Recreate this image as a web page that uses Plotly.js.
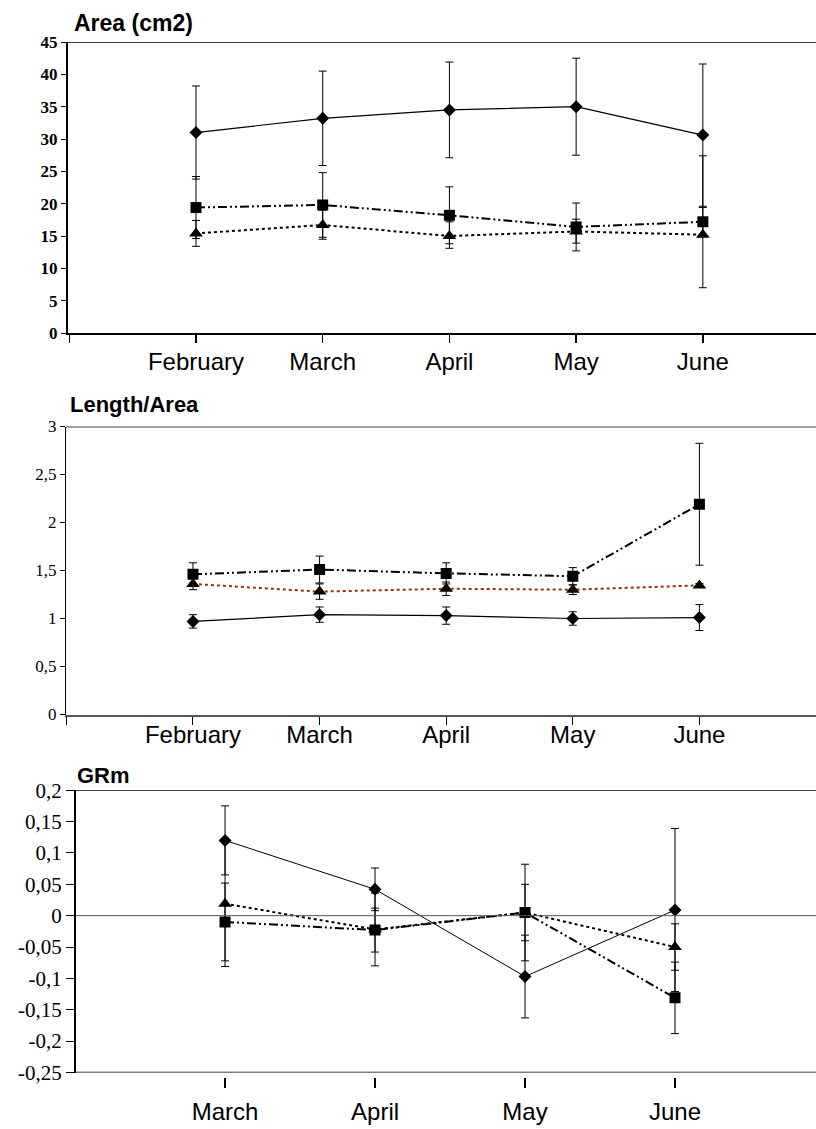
<!DOCTYPE html>
<html>
<head>
<meta charset="utf-8">
<script src="https://cdn.plot.ly/plotly-3.0.1.min.js"></script>
<style>
  html, body { margin: 0; padding: 0; background: #fff; }
  #chart { width: 816px; height: 1129px; }
</style>
</head>
<body>
<div id="chart"></div>
<script>
// ---------- data ----------
const monthsA = ['February', 'March', 'April', 'May', 'June'];
const monthsG = ['March', 'April', 'May', 'June'];

// Area (cm2)
const areaDiamond = [31.0, 33.2, 34.5, 35.0, 30.6];
const areaDiamondErr = [7.2, 7.3, 7.4, 7.5, 11.0];
const areaSquare = [19.4, 19.8, 18.2, 16.4, 17.2];
const areaSquareErr = [4.8, 5.0, 4.4, 3.7, 2.2];
const areaTriangle = [15.4, 16.7, 15.0, 15.7, 15.2];
const areaTriangleErrPlus = [2.0, 2.3, 2.2, 1.9, 12.2];
const areaTriangleErrMinus = [2.0, 2.2, 1.9, 1.8, 8.2];

// Length/Area
const laDiamond = [0.97, 1.04, 1.03, 1.00, 1.01];
const laDiamondErr = [0.07, 0.08, 0.09, 0.07, 0.135];
const laSquare = [1.46, 1.51, 1.47, 1.44, 2.19];
const laSquareErr = [0.12, 0.14, 0.11, 0.09, 0.635];
const laTriangle = [1.36, 1.28, 1.31, 1.30, 1.345];
const laTriangleErr = [0.06, 0.08, 0.07, 0.05, 0.02];

// GRm
const grDiamond = [0.120, 0.042, -0.097, 0.009];
const grDiamondErr = [0.055, 0.034, 0.066, 0.130];
const grSquare = [-0.010, -0.023, 0.005, -0.131];
const grSquareErr = [0.062, 0.035, 0.077, 0.057];
const grTriangle = [0.019, -0.022, 0.005, -0.050];
const grTriangleErr = [0.100, 0.058, 0.045, 0.037];

// tick labels
const areaTicks = [0, 5, 10, 15, 20, 25, 30, 35, 40, 45];
const laTicks = [0, 0.5, 1, 1.5, 2, 2.5, 3];
const laTickText = ['0', '0,5', '1', '1,5', '2', '2,5', '3'];
const grTicks = [0.2, 0.15, 0.1, 0.05, 0, -0.05, -0.1, -0.15, -0.2, -0.25];
const grTickText = ['0,2', '0,15', '0,1', '0,05', '0', '-0,05', '-0,1', '-0,15', '-0,2', '-0,25'];

// ---------- helpers ----------
const H = 1129, W = 816;
const py = p => 1 - p / H;
const px = p => p / W;
const idx = arr => arr.map((_, i) => i);

const DOTDASH = '9px,3px,2px,3px,2px,3px';
const DOT = '3px,3px';

function series(x, y, plus, minus, symbol, size, line, xa, ya) {
  return {
    type: 'scatter', mode: 'lines+markers', x: x, y: y,
    xaxis: xa, yaxis: ya,
    line: line,
    marker: { symbol: symbol, size: size, color: '#000' },
    error_y: { type: 'data', symmetric: false, array: plus, arrayminus: minus,
               color: '#000', thickness: 1, width: 4 },
    showlegend: false, hoverinfo: 'skip'
  };
}

const xA = idx(monthsA), xG = idx(monthsG);

const traces = [
  // Area
  series(xA, areaTriangle, areaTriangleErrPlus, areaTriangleErrMinus, 'triangle-up', 12, {color: '#000', width: 2, dash: DOT}, 'x', 'y'),
  series(xA, areaSquare, areaSquareErr, areaSquareErr, 'square', 11, {color: '#000', width: 2, dash: DOTDASH}, 'x', 'y'),
  series(xA, areaDiamond, areaDiamondErr, areaDiamondErr, 'diamond', 10, {color: '#000', width: 1.2}, 'x', 'y'),
  // Length/Area
  series(xA, laTriangle, laTriangleErr, laTriangleErr, 'triangle-up', 12, {color: '#993300', width: 2, dash: DOT}, 'x2', 'y2'),
  series(xA, laSquare, laSquareErr, laSquareErr, 'square', 11, {color: '#000', width: 2, dash: DOTDASH}, 'x2', 'y2'),
  series(xA, laDiamond, laDiamondErr, laDiamondErr, 'diamond', 10, {color: '#000', width: 1.2}, 'x2', 'y2'),
  // GRm
  series(xG, grTriangle, grTriangleErr, grTriangleErr, 'triangle-up', 12, {color: '#000', width: 2, dash: DOT}, 'x3', 'y3'),
  series(xG, grSquare, grSquareErr, grSquareErr, 'square', 11, {color: '#000', width: 2, dash: DOTDASH}, 'x3', 'y3'),
  series(xG, grDiamond, grDiamondErr, grDiamondErr, 'diamond', 10, {color: '#000', width: 1}, 'x3', 'y3')
];

const monthFont = { family: 'Liberation Sans, Arial, sans-serif', size: 24, color: '#000' };

const layout = {
  width: W, height: H,
  margin: { l: 0, r: 0, t: 0, b: 0 },
  paper_bgcolor: '#fff', plot_bgcolor: '#fff',
  separators: ',.',
  showlegend: false,
  // ---- top: Area
  xaxis: {
    domain: [px(68), 1], range: [-1.01, 4.893], anchor: 'y',
    tickvals: [-1].concat(xA), ticktext: [''].concat(monthsA),
    ticks: 'outside', ticklen: 8, tickwidth: 1.5, tickcolor: '#000',
    showline: true, linecolor: '#000', linewidth: 2,
    showgrid: false, zeroline: false, tickfont: monthFont, ticklabelstandoff: -2
  },
  yaxis: {
    domain: [py(333), py(42)], range: [0, 45], anchor: 'x',
    tickvals: areaTicks, ticks: 'outside', ticklen: 5, tickcolor: '#000',
    showline: true, linecolor: '#000', linewidth: 2,
    showgrid: false, zeroline: false,
    tickfont: { family: 'Liberation Serif, Times New Roman, serif', size: 17, color: '#000', weight: 'bold' }
  },
  // ---- middle: Length/Area
  xaxis2: {
    domain: [px(66), 1], range: [-1.003, 4.921], anchor: 'y2',
    tickvals: [-1].concat(xA), ticktext: [''].concat(monthsA),
    ticks: 'outside', ticklen: 8, tickwidth: 1, tickcolor: '#000',
    showline: true, linecolor: '#555', linewidth: 2,
    showgrid: false, zeroline: false, tickfont: monthFont, ticklabelstandoff: -10
  },
  yaxis2: {
    domain: [py(714.5), py(426.5)], range: [0, 3], anchor: 'x2',
    tickvals: laTicks, ticktext: laTickText,
    ticks: 'outside', ticklen: 5, tickcolor: '#000',
    showline: true, linecolor: '#000', linewidth: 1,
    showgrid: false, zeroline: false,
    tickfont: { family: 'Liberation Serif, Times New Roman, serif', size: 17, color: '#000' }
  },
  // ---- bottom: GRm
  xaxis3: {
    domain: [px(75.5), 1], range: [-0.997, 3.94], anchor: 'free', position: py(1077),
    tickvals: xG, ticktext: monthsG,
    ticks: 'outside', ticklen: 10, tickwidth: 1.5, tickcolor: '#000',
    showline: false, showgrid: false, zeroline: false,
    tickfont: monthFont, ticklabelstandoff: 3
  },
  yaxis3: {
    domain: [py(1072.5), py(790.2)], range: [-0.25, 0.2], anchor: 'x3',
    tickvals: grTicks, ticktext: grTickText,
    ticks: 'outside', ticklen: 8, tickcolor: '#000',
    showline: true, linecolor: '#000', linewidth: 1.5,
    showgrid: false, zeroline: false,
    tickfont: { family: 'Liberation Serif, Times New Roman, serif', size: 21, color: '#000' }
  },
  shapes: [
    { type: 'line', xref: 'x domain', yref: 'y', x0: 0, x1: 1, y0: 45, y1: 45, line: { color: '#404040', width: 2 } },
    { type: 'line', xref: 'x2 domain', yref: 'y2', x0: 0, x1: 1, y0: 3, y1: 3, line: { color: '#404040', width: 2 } },
    { type: 'line', xref: 'x3 domain', yref: 'y3', x0: 0, x1: 1, y0: 0.2, y1: 0.2, line: { color: '#000', width: 1.5 } },
    { type: 'line', xref: 'x3 domain', yref: 'y3', x0: 0, x1: 1, y0: 0, y1: 0, line: { color: '#555', width: 1 } },
    { type: 'line', xref: 'x3 domain', yref: 'y3', x0: 0, x1: 1, y0: -0.25, y1: -0.25, line: { color: '#000', width: 1.5 } }
  ],
  annotations: [
    { text: '<b>Area (cm2)</b>', xref: 'paper', yref: 'paper', x: px(72), y: py(23), xanchor: 'left', yanchor: 'middle', showarrow: false,
      font: { family: 'Liberation Sans, Arial, sans-serif', size: 23, color: '#000' } },
    { text: '<b>Length/Area</b>', xref: 'paper', yref: 'paper', x: px(68), y: py(404), xanchor: 'left', yanchor: 'middle', showarrow: false,
      font: { family: 'Liberation Sans, Arial, sans-serif', size: 22, color: '#000' } },
    { text: '<b>GRm</b>', xref: 'paper', yref: 'paper', x: px(75), y: py(775), xanchor: 'left', yanchor: 'middle', showarrow: false,
      font: { family: 'Liberation Sans, Arial, sans-serif', size: 22, color: '#000' } }
  ]
};

Plotly.newPlot('chart', traces, layout, { staticPlot: true, displayModeBar: false });
</script>
</body>
</html>
